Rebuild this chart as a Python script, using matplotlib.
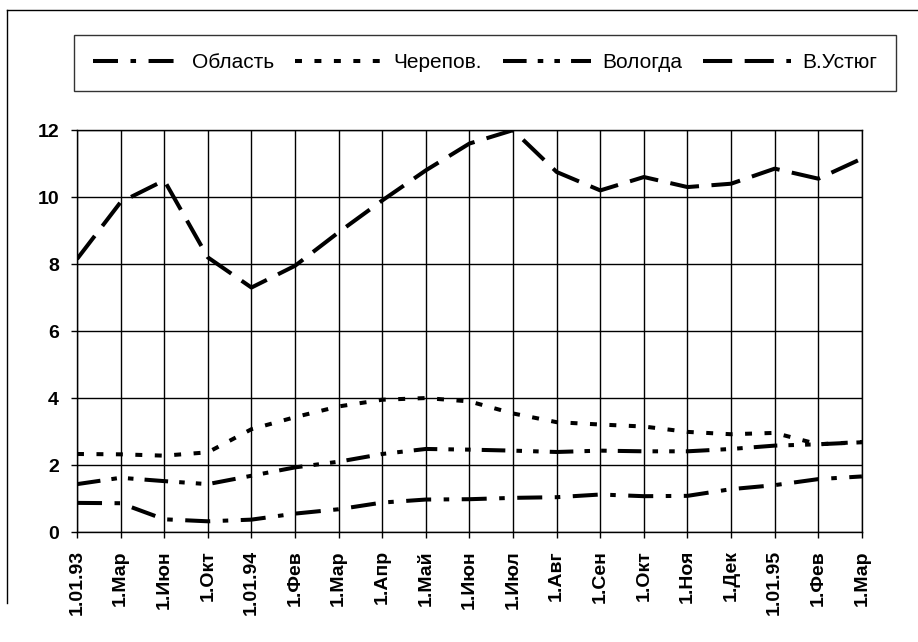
import matplotlib
matplotlib.use("Agg")
import matplotlib.pyplot as plt
from matplotlib.lines import Line2D

plt.rcParams['font.family'] = ['Liberation Sans', 'DejaVu Sans']
plt.rcParams['lines.scale_dashes'] = False

# data
dates = ["1.01.93", "1.Мар", "1.Июн", "1.Окт", "1.01.94", "1.Фев", "1.Мар",
         "1.Апр", "1.Май", "1.Июн", "1.Июл", "1.Авг", "1.Сен", "1.Окт",
         "1.Ноя", "1.Дек", "1.01.95", "1.Фев", "1.Мар"]
oblast = [0.87, 0.86, 0.38, 0.32, 0.37, 0.55, 0.68, 0.88, 0.97, 0.98,
          1.02, 1.04, 1.12, 1.07, 1.08, 1.28, 1.40, 1.58, 1.66]
cherepov = [2.33, 2.32, 2.28, 2.38, 3.07, 3.43, 3.75, 3.95, 4.0, 3.9,
            3.54, 3.28, 3.21, 3.15, 2.99, 2.92, 2.96, 2.62, 2.69]
vologda = [1.43, 1.62, 1.52, 1.43, 1.68, 1.93, 2.1, 2.33, 2.48, 2.46,
           2.43, 2.39, 2.43, 2.41, 2.41, 2.48, 2.58, 2.62, 2.68]
ustyug = [8.15, 9.85, 10.5, 8.2, 7.3, 7.95, 8.95, 9.9, 10.8, 11.6,
          12.0, 10.75, 10.2, 10.6, 10.3, 10.4, 10.85, 10.55, 11.15]

names = ["Область", "Черепов.", "Вологда", "В.Устюг"]
dash_styles = [(0, (18, 9, 4, 9)),
               (0, (5, 9)),
               (0, (17, 8, 4, 8, 4, 8)),
               (0, (21, 9))]

fig = plt.figure(figsize=(9.18, 6.42), dpi=100)
ax = fig.add_axes([0.0839, 0.1713, 0.855, 0.626])

x = list(range(len(dates)))
for vals, ls in zip([oblast, cherepov, vologda, ustyug], dash_styles):
    ax.plot(x, vals, color='black', lw=2.9, linestyle=ls,
            dash_capstyle='butt', dash_joinstyle='round')

ax.set_xlim(0, len(dates) - 1)
ax.set_ylim(0, 12)
ax.set_yticks(range(0, 13, 2))
ax.set_xticks(x)
ax.set_xticklabels(dates, rotation=90, fontsize=14, fontweight='bold')
for lab in ax.get_yticklabels():
    lab.set_fontsize(14)
    lab.set_fontweight('bold')
ax.grid(True, color='black', lw=1.0)
ax.tick_params(axis='x', length=4, width=1, color='black', direction='out', pad=9)
ax.tick_params(axis='y', length=4, width=1, color='black', direction='out', pad=9)
for sp in ax.spines.values():
    sp.set_linewidth(1.0)
    sp.set_color('black')

handles = [Line2D([0], [0], color='black', lw=2.9, linestyle=ls) for ls in dash_styles]
leg = fig.legend(handles, names, loc='center', ncol=4,
                 bbox_to_anchor=(74 / 918, 1 - 92 / 642, 822 / 918, 58 / 642), mode='expand',
                 frameon=True, fancybox=False, handlelength=4.2,
                 prop={'family': ['Liberation Sans', 'DejaVu Sans'], 'size': 15},
                 borderpad=0.9, borderaxespad=0, columnspacing=1.0, handletextpad=0.55)
leg.get_frame().set_edgecolor('black')
leg.get_frame().set_linewidth(1.0)

# outer chart border (left and top edges as in the scan)
fig.add_artist(Line2D([0.008, 0.008], [0.06, 0.984], color='black', lw=1.0,
                      transform=fig.transFigure))
fig.add_artist(Line2D([0.008, 1.0], [0.984, 0.984], color='black', lw=1.0,
                      transform=fig.transFigure))

fig.savefig("out.png", dpi=100)
